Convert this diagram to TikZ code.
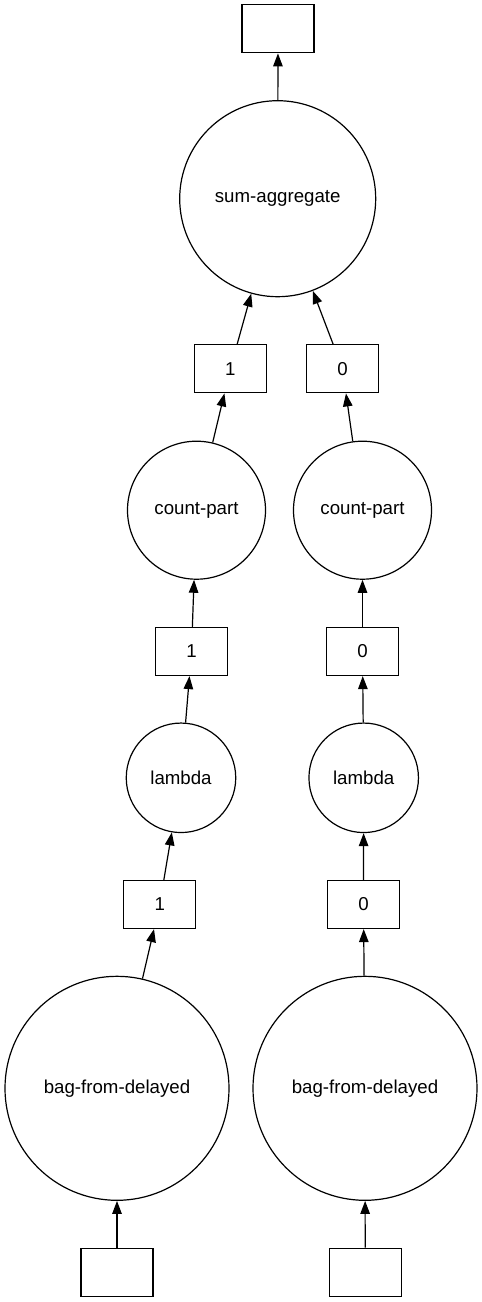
\documentclass[tikz,border=0pt]{standalone}
\usepackage{fontspec}
\setmainfont{Liberation Sans}
\usetikzlibrary{arrows.meta}
\begin{document}
\begin{tikzpicture}[x=1pt,y=-1pt,
  every node/.style={font=\fontsize{18.67}{22}\selectfont, line width=1.2pt, inner sep=0pt},
  circ/.style={draw, circle},
  box/.style={draw, rectangle, minimum width=72pt, minimum height=48pt},
  edge/.style={line width=1.2pt, -{Triangle[length=13pt,width=9.5pt]}}]
\useasboundingbox (0,0) rectangle (482,1302);
% nodes
\node[box] (top) at (278,28.8) {};
\node[circ, minimum size=196pt] (sum) at (277.7,198.7) {sum-aggregate};
\node[box] (b1a) at (230.3,368.8) {1};
\node[box] (b0a) at (342.5,368.8) {0};
\node[circ, minimum size=138pt] (cpL) at (196.5,510.2) {count-part};
\node[circ, minimum size=138pt] (cpR) at (362.5,510.2) {count-part};
\node[box] (b1b) at (191.5,651.5) {1};
\node[box] (b0b) at (362.5,651.5) {0};
\node[circ, minimum size=109.5pt] (laL) at (181,777.8) {lambda};
\node[circ, minimum size=109.5pt] (laR) at (363.7,777.8) {lambda};
\node[box] (b1c) at (159.7,904.5) {1};
\node[box] (b0c) at (363.5,904.5) {0};
\node[circ, minimum size=224pt] (bgL) at (117,1088.3) {bag-from-delayed};
\node[circ, minimum size=224pt] (bgR) at (365,1088.3) {bag-from-delayed};
\node[box] (inL) at (117,1272.2) {};
\node[box] (inR) at (365.2,1272.2) {};
% edges
\draw[edge] (sum) -- (top);
\draw[edge] (b1a) -- (sum);
\draw[edge] (b0a) -- (sum);
\draw[edge] (cpL) -- (b1a);
\draw[edge] (cpR) -- (b0a);
\draw[edge] (b1b) -- (cpL);
\draw[edge] (b0b) -- (cpR);
\draw[edge] (laL) -- (b1b);
\draw[edge] (laR) -- (b0b);
\draw[edge] (b1c) -- (laL);
\draw[edge] (b0c) -- (laR);
\draw[edge] (bgL) -- (b1c);
\draw[edge] (bgR) -- (b0c);
\draw[edge] (inL) -- (bgL);
\draw[edge] (inR) -- (bgR);
\end{tikzpicture}
\end{document}
